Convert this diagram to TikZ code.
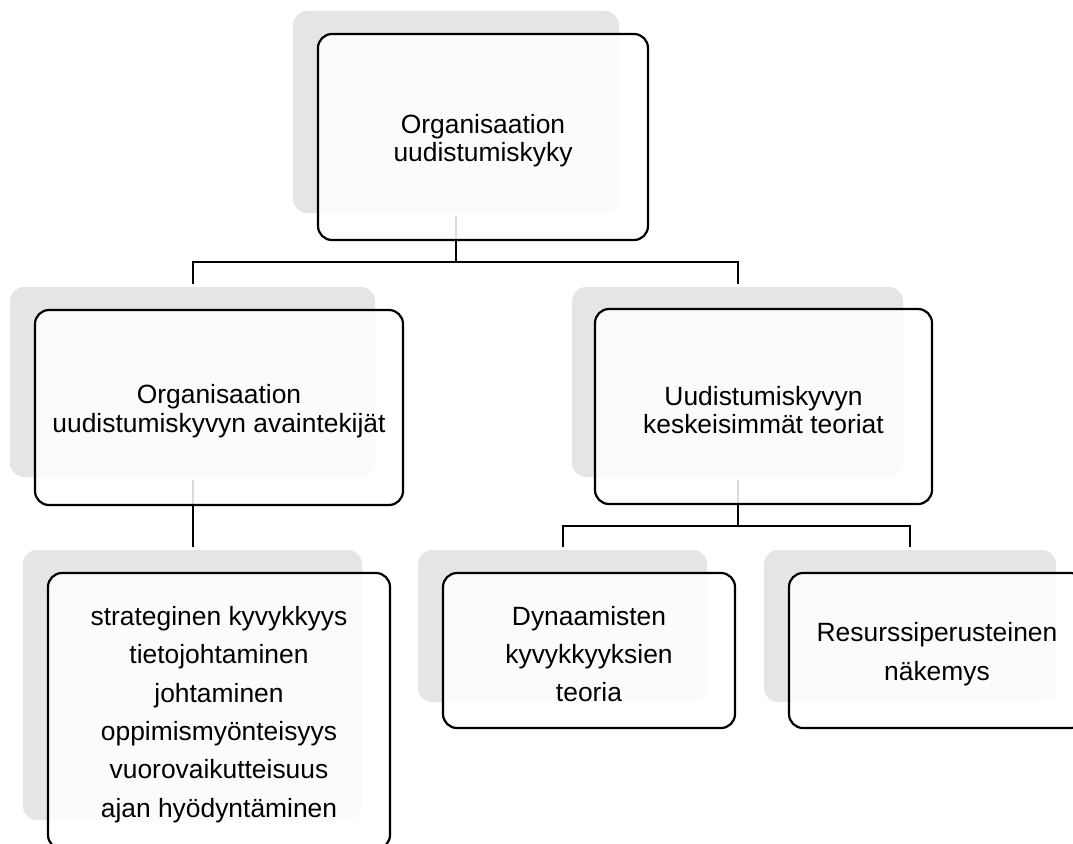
\documentclass[tikz,border=0pt]{standalone}
\usepackage{fontspec}
\setmainfont{Liberation Sans}
\begin{document}
\begin{tikzpicture}[x=1pt,y=-1pt,
  shadowbox/.style={rectangle, rounded corners=14pt, fill=black!10, draw=none, inner sep=0pt},
  mainbox/.style={rectangle, rounded corners=14pt, draw=black, line width=2.2pt, fill=white, fill opacity=0.86, text opacity=1, inner sep=0pt},
  upper/.style={align=center, inner sep=0pt, yshift=-3.5pt, text opacity=1, font=\fontsize{26.4}{28.5}\selectfont},
  lower/.style={align=center, inner sep=0pt, yshift=-3.5pt, text opacity=1, font=\fontsize{26.4}{38.4}\selectfont},
  conn/.style={draw=black, line width=2pt, shorten <=3pt, shorten >=3pt}]
\useasboundingbox (0,0) rectangle (1073,843);
\clip (0,0) rectangle (1073,843);
% shadows
\node[shadowbox, minimum width=326pt, minimum height=202pt] (s0) at (456,112) {};
\node[shadowbox, minimum width=365pt, minimum height=190pt] (s1) at (192.5,382) {};
\node[shadowbox, minimum width=331pt, minimum height=190pt] (s2) at (737.5,382) {};
\node[shadowbox, minimum width=339pt, minimum height=270pt] (s3) at (192.5,685) {};
\node[shadowbox, minimum width=289pt, minimum height=152pt] (s4) at (562.5,626) {};
\node[shadowbox, minimum width=292pt, minimum height=152pt] (s5) at (910,626) {};
% connectors
\draw[conn] (s0.south) -- ++(0,49) -| (s1.north);
\draw[conn] (s0.south) -- ++(0,49) -| (s2.north);
\draw[conn] (s1.south) -- (s3.north);
\draw[conn] (s2.south) -- ++(0,49) -| (s4.north);
\draw[conn] (s2.south) -- ++(0,49) -| (s5.north);
% main boxes
\node[mainbox, minimum width=330pt, minimum height=206pt,
  label={[upper]center:{Organisaation\\uudistumiskyky}}] (b0) at (483,137) {};
\node[mainbox, minimum width=368pt, minimum height=195pt,
  label={[upper]center:{Organisaation\\uudistumiskyvyn avaintekijät}}] (b1) at (219,407.5) {};
\node[mainbox, minimum width=337pt, minimum height=195pt,
  label={[upper]center:{Uudistumiskyvyn\\keskeisimmät teoriat}}] (b2) at (763.5,406.5) {};
\node[mainbox, minimum width=342pt, minimum height=276pt,
  label={[lower]center:{strateginen kyvykkyys\\tietojohtaminen\\johtaminen\\oppimismyönteisyys\\vuorovaikutteisuus\\ajan hyödyntäminen}}] (b3) at (219,711) {};
\node[mainbox, minimum width=292pt, minimum height=155pt,
  label={[lower]center:{Dynaamisten\\kyvykkyyksien\\teoria}}] (b4) at (589,650.5) {};
\node[mainbox, minimum width=296pt, minimum height=155pt,
  label={[lower]center:{Resurssiperusteinen\\näkemys}}] (b5) at (937,650.5) {};
\end{tikzpicture}
\end{document}
